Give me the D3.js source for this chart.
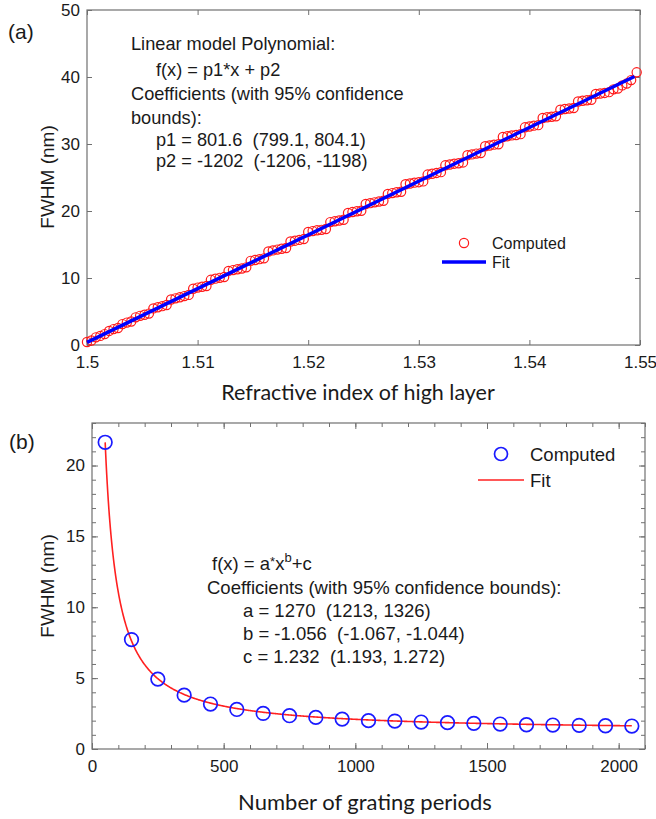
<!DOCTYPE html>
<html>
<head>
<meta charset="utf-8">
<script src="https://cdn.jsdelivr.net/npm/d3@7"></script>
<style>
  html, body { margin: 0; padding: 0; background: #fff; }
  svg { display: block; }
  text { white-space: pre; }
</style>
</head>
<body>
<svg id="chart" width="656" height="819"></svg>
<script>
// ---------- Panel (a): FWHM vs refractive index of the high layer ----------
const indexValues = [
  1.5000, 1.5004, 1.5008, 1.5012, 1.5016, 1.5020, 1.5024, 1.5028, 1.5032, 1.5036,
  1.5040, 1.5044, 1.5048, 1.5052, 1.5056, 1.5060, 1.5064, 1.5068, 1.5072, 1.5076,
  1.5080, 1.5084, 1.5088, 1.5092, 1.5096, 1.5100, 1.5104, 1.5108, 1.5112, 1.5116,
  1.5120, 1.5124, 1.5128, 1.5132, 1.5136, 1.5140, 1.5144, 1.5148, 1.5152, 1.5156,
  1.5160, 1.5164, 1.5168, 1.5172, 1.5176, 1.5180, 1.5184, 1.5188, 1.5192, 1.5196,
  1.5200, 1.5204, 1.5208, 1.5212, 1.5216, 1.5220, 1.5224, 1.5228, 1.5232, 1.5236,
  1.5240, 1.5244, 1.5248, 1.5252, 1.5256, 1.5260, 1.5264, 1.5268, 1.5272, 1.5276,
  1.5280, 1.5284, 1.5288, 1.5292, 1.5296, 1.5300, 1.5304, 1.5308, 1.5312, 1.5316,
  1.5320, 1.5324, 1.5328, 1.5332, 1.5336, 1.5340, 1.5344, 1.5348, 1.5352, 1.5356,
  1.5360, 1.5364, 1.5368, 1.5372, 1.5376, 1.5380, 1.5384, 1.5388, 1.5392, 1.5396,
  1.5400, 1.5404, 1.5408, 1.5412, 1.5416, 1.5420, 1.5424, 1.5428, 1.5432, 1.5436,
  1.5440, 1.5444, 1.5448, 1.5452, 1.5456, 1.5460, 1.5464, 1.5468, 1.5472, 1.5476,
  1.5480, 1.5484, 1.5488, 1.5492, 1.5497
];
const fwhmA = [
  0.45, 0.67, 1.14, 1.36, 1.63, 2.10, 2.37, 2.54, 3.12, 3.34,
  3.51, 4.13, 4.35, 4.52, 4.69, 5.46, 5.63, 5.80, 5.97, 6.79,
  6.96, 7.13, 7.30, 7.48, 8.40, 8.57, 8.69, 8.81, 9.73, 9.90,
  10.02, 10.14, 11.06, 11.18, 11.30, 11.42, 11.59, 12.56, 12.68, 12.81,
  12.93, 13.95, 14.12, 14.24, 14.36, 14.48, 15.45, 15.57, 15.69, 15.81,
  16.88, 17.00, 17.12, 17.19, 17.32, 18.34, 18.46, 18.58, 18.70, 19.72,
  19.84, 19.96, 20.03, 21.05, 21.17, 21.29, 21.41, 21.53, 22.55, 22.67,
  22.80, 22.87, 23.99, 24.11, 24.23, 24.30, 24.42, 25.44, 25.56, 25.68,
  25.80, 26.82, 26.94, 27.06, 27.13, 27.25, 28.33, 28.45, 28.57, 28.64,
  29.66, 29.78, 29.90, 29.97, 31.04, 31.16, 31.28, 31.35, 31.47, 32.49,
  32.61, 32.74, 32.81, 33.88, 34.00, 34.07, 34.14, 35.11, 35.23, 35.30,
  35.37, 36.34, 36.46, 36.53, 36.60, 37.47, 37.54, 37.62, 37.74, 38.16,
  38.28, 38.75, 39.02, 39.54, 40.70
];
// linear fit coefficients
const p1 = 801.6, p2 = -1202;
const fitRangeA = [1.5, 1.5495];
const xTicksA = [1.5, 1.51, 1.52, 1.53, 1.54, 1.55];
const yTicksA = [0, 10, 20, 30, 40, 50];
const notesA = [
  "Linear model Polynomial:",
  "f(x) = p1*x + p2",
  "Coefficients (with 95% confidence",
  "bounds):",
  "p1 = 801.6  (799.1, 804.1)",
  "p2 = -1202  (-1206, -1198)"
];

// ---------- Panel (b): FWHM vs number of grating periods ----------
const periods = [50, 150, 250, 350, 450, 550, 650, 750, 850, 950, 1050,
                 1150, 1250, 1350, 1450, 1550, 1650, 1750, 1850, 1950, 2050];
const fwhmB = [21.64, 7.72, 4.93, 3.80, 3.17, 2.79, 2.51, 2.35, 2.23, 2.11, 2.00,
               1.97, 1.90, 1.86, 1.81, 1.76, 1.71, 1.69, 1.67, 1.64, 1.62];
// power-law fit coefficients
const a = 1270, b = -1.056, c = 1.232;
const fitRangeB = [50, 2050];
const xTicksB = [0, 500, 1000, 1500, 2000];
const xMinorB = d3.range(0, 2101, 100);
const yTicksB = [0, 5, 10, 15, 20];
const yMinorB = d3.range(0, 24, 1);

const svg = d3.select("#chart");
const tickFont = "'Liberation Sans', Arial, Helvetica, sans-serif";
const labelFont = "Lato, 'Open Sans', sans-serif";
const axisGrey = "#707070";
const textColor = "#1a1a1a";

function styleAxis(g) {
  g.select(".domain").remove();
  g.selectAll(".tick line").attr("stroke", axisGrey).attr("stroke-width", 1);
  g.selectAll(".tick text").attr("fill", textColor)
    .attr("font-family", tickFont).attr("font-size", 17);
}

function drawFrame(x, y) {
  const [x0, x1] = x.range(), [y0, y1] = y.range();
  svg.append("rect")
    .attr("x", x0).attr("y", y1)
    .attr("width", x1 - x0).attr("height", y0 - y1)
    .attr("fill", "none").attr("stroke", axisGrey).attr("stroke-width", 1.2);
}

// ===== Panel (a) =====
const xA = d3.scaleLinear().domain([1.5, 1.55]).range([87, 640]);
const yA = d3.scaleLinear().domain([0, 50]).range([345, 10]);

svg.append("g").attr("transform", `translate(0,${yA(0)})`)
  .call(d3.axisBottom(xA).tickValues(xTicksA).tickSize(-5).tickPadding(11).tickFormat(d => String(d)))
  .call(styleAxis);
svg.append("g").attr("transform", `translate(0,${yA(50)})`)
  .call(d3.axisTop(xA).tickValues(xTicksA).tickSize(-5).tickFormat(""))
  .call(styleAxis);
svg.append("g").attr("transform", `translate(${xA(1.5)},0)`)
  .call(d3.axisLeft(yA).tickValues(yTicksA).tickSize(-5).tickPadding(7).tickFormat(d => String(d)))
  .call(styleAxis);
svg.append("g").attr("transform", `translate(${xA(1.55)},0)`)
  .call(d3.axisRight(yA).tickValues(yTicksA).tickSize(-5).tickFormat(""))
  .call(styleAxis);
drawFrame(xA, yA);

svg.append("clipPath").attr("id", "clipA").append("rect")
  .attr("x", 80).attr("y", 5).attr("width", 570).attr("height", 345);

svg.append("g").attr("clip-path", "url(#clipA)")
  .selectAll("circle").data(indexValues).join("circle")
  .attr("cx", (d) => xA(d))
  .attr("cy", (d, i) => yA(fwhmA[i]))
  .attr("r", 4.6)
  .attr("fill", "none").attr("stroke", "#ff1a1a").attr("stroke-width", 1.2);

svg.append("line")
  .attr("x1", xA(fitRangeA[0])).attr("y1", yA(p1 * fitRangeA[0] + p2))
  .attr("x2", xA(fitRangeA[1])).attr("y2", yA(p1 * fitRangeA[1] + p2))
  .attr("stroke", "#0000ff").attr("stroke-width", 3.5);

// annotation (a)
const noteA = svg.append("g").attr("font-family", tickFont).attr("font-size", 18.2).attr("fill", textColor);
const noteAX = [131, 156, 131, 131, 156, 156];
const noteAY = [50, 76, 100, 124, 146, 167];
notesA.forEach((t, i) => noteA.append("text").attr("x", noteAX[i]).attr("y", noteAY[i]).text(t));

// legend (a)
const legA = svg.append("g").attr("font-family", tickFont).attr("font-size", 16).attr("fill", textColor);
legA.append("circle").attr("cx", 464).attr("cy", 243).attr("r", 4.6)
  .attr("fill", "none").attr("stroke", "#ff1a1a").attr("stroke-width", 1.2);
legA.append("text").attr("x", 492).attr("y", 249).text("Computed");
legA.append("line").attr("x1", 442).attr("x2", 486).attr("y1", 262).attr("y2", 262)
  .attr("stroke", "#0000ff").attr("stroke-width", 3.5);
legA.append("text").attr("x", 492).attr("y", 268).text("Fit");

// axis titles (a)
svg.append("text").attr("x", 358).attr("y", 400).attr("text-anchor", "middle")
  .attr("font-family", labelFont).attr("font-size", 21.5).attr("fill", textColor)
  .text("Refractive index of high layer");
svg.append("text").attr("transform", "translate(54,177) rotate(-90)").attr("text-anchor", "middle")
  .attr("font-family", tickFont).attr("font-size", 19).attr("fill", textColor)
  .text("FWHM (nm)");
svg.append("text").attr("x", 8).attr("y", 39)
  .attr("font-family", tickFont).attr("font-size", 21).attr("fill", textColor).text("(a)");

// ===== Panel (b) =====
const xB = d3.scaleLinear().domain([0, 2100]).range([92, 645]);
const yB = d3.scaleLinear().domain([0, 23]).range([749, 423]);

// minor ticks on all four sides
svg.append("g").attr("transform", `translate(0,${yB(0)})`)
  .call(d3.axisBottom(xB).tickValues(xMinorB).tickSize(-4).tickFormat("")).call(styleAxis);
svg.append("g").attr("transform", `translate(0,${yB(23)})`)
  .call(d3.axisTop(xB).tickValues(xMinorB).tickSize(-4).tickFormat("")).call(styleAxis);
svg.append("g").attr("transform", `translate(${xB(0)},0)`)
  .call(d3.axisLeft(yB).tickValues(yMinorB).tickSize(-4).tickFormat("")).call(styleAxis);
svg.append("g").attr("transform", `translate(${xB(2100)},0)`)
  .call(d3.axisRight(yB).tickValues(yMinorB).tickSize(-4).tickFormat("")).call(styleAxis);
// major ticks
svg.append("g").attr("transform", `translate(0,${yB(0)})`)
  .call(d3.axisBottom(xB).tickValues(xTicksB).tickSize(-6).tickPadding(11).tickFormat(d => String(d)))
  .call(styleAxis);
svg.append("g").attr("transform", `translate(0,${yB(23)})`)
  .call(d3.axisTop(xB).tickValues(xTicksB).tickSize(-6).tickFormat("")).call(styleAxis);
svg.append("g").attr("transform", `translate(${xB(0)},0)`)
  .call(d3.axisLeft(yB).tickValues(yTicksB).tickSize(-6).tickPadding(7).tickFormat(d => String(d)))
  .call(styleAxis);
svg.append("g").attr("transform", `translate(${xB(2100)},0)`)
  .call(d3.axisRight(yB).tickValues(yTicksB).tickSize(-6).tickFormat("")).call(styleAxis);
drawFrame(xB, yB);

// fitted curve f(x) = a*x^b + c
const fitXs = d3.range(fitRangeB[0], fitRangeB[1] + 1, 2);
const fitLine = d3.line().x(d => xB(d)).y(d => yB(a * Math.pow(d, b) + c));
svg.append("path").datum(fitXs).attr("d", fitLine)
  .attr("fill", "none").attr("stroke", "#ff2020").attr("stroke-width", 1.6);

svg.append("g").selectAll("circle").data(periods).join("circle")
  .attr("cx", d => xB(d))
  .attr("cy", (d, i) => yB(fwhmB[i]))
  .attr("r", 6.8)
  .attr("fill", "none").attr("stroke", "#1a1aff").attr("stroke-width", 1.7);

// annotation (b)
const noteB = svg.append("g").attr("font-family", tickFont).attr("font-size", 18.5).attr("fill", textColor);
const fxText = noteB.append("text").attr("x", 212).attr("y", 570);
fxText.append("tspan").text("f(x) = a");
fxText.append("tspan").attr("font-size", 13).attr("baseline-shift", "4").text("*");
fxText.append("tspan").text("x");
fxText.append("tspan").attr("font-size", 13).attr("baseline-shift", "8").text("b");
fxText.append("tspan").text("+c");
noteB.append("text").attr("x", 207).attr("y", 594).text("Coefficients (with 95% confidence bounds):");
noteB.append("text").attr("x", 243).attr("y", 617).text("a = 1270  (1213, 1326)");
noteB.append("text").attr("x", 243).attr("y", 640).text("b = -1.056  (-1.067, -1.044)");
noteB.append("text").attr("x", 243).attr("y", 663).text("c = 1.232  (1.193, 1.272)");

// legend (b)
const legB = svg.append("g").attr("font-family", tickFont).attr("font-size", 18.5).attr("fill", textColor);
legB.append("circle").attr("cx", 501).attr("cy", 454).attr("r", 6.5)
  .attr("fill", "none").attr("stroke", "#1a1aff").attr("stroke-width", 1.7);
legB.append("text").attr("x", 530).attr("y", 461).text("Computed");
legB.append("line").attr("x1", 478).attr("x2", 524).attr("y1", 480).attr("y2", 480)
  .attr("stroke", "#ff2020").attr("stroke-width", 1.6);
legB.append("text").attr("x", 530).attr("y", 487).text("Fit");

// axis titles (b)
svg.append("text").attr("x", 365).attr("y", 810).attr("text-anchor", "middle")
  .attr("font-family", labelFont).attr("font-size", 22).attr("fill", textColor)
  .text("Number of grating periods");
svg.append("text").attr("transform", "translate(54,586) rotate(-90)").attr("text-anchor", "middle")
  .attr("font-family", tickFont).attr("font-size", 19).attr("fill", textColor)
  .text("FWHM (nm)");
svg.append("text").attr("x", 9).attr("y", 449)
  .attr("font-family", tickFont).attr("font-size", 21).attr("fill", textColor).text("(b)");
</script>
</body>
</html>
